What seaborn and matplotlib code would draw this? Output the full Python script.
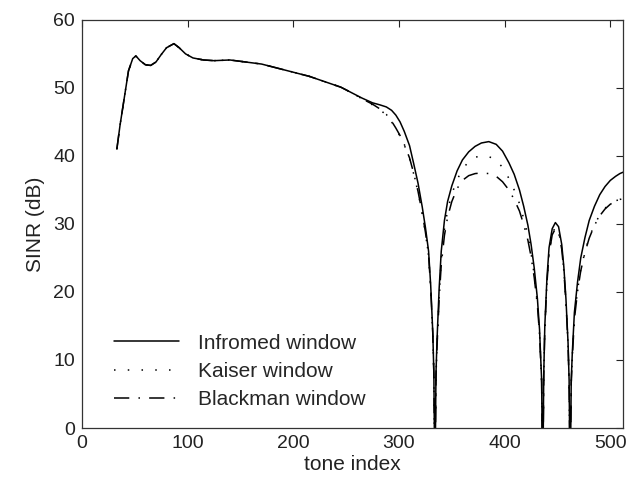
import pandas as pd
import matplotlib
matplotlib.use("Agg")
import matplotlib.pyplot as plt
import seaborn as sns

# values (nulls go below the axis and get clipped)
tone_idx = [33, 36, 40, 44, 48, 51, 55, 60, 65, 70, 75, 80, 87, 92, 98, 105, 115, 125,
            140, 155, 170, 185, 200, 215, 230, 245, 255, 265, 275, 282, 288, 293, 297,
            301, 305, 310, 314, 318, 322, 325, 328, 330, 332, 333, 334, 335, 336, 338,
            340, 343, 346, 350, 355, 360, 366, 372, 378, 385, 392, 398, 404, 409, 414,
            418, 422, 425, 428, 431, 433, 435, 436, 437, 438, 440, 442, 445, 448, 451,
            454, 456, 458, 460, 461, 462, 463, 464, 466, 469, 472, 476, 480, 485, 490,
            495, 500, 505, 509, 512]

informed = [41.0, 44.5, 48.5, 52.5, 54.3, 54.7, 54.0, 53.4, 53.3, 53.8, 54.9, 55.9, 56.5,
            55.9, 55.0, 54.4, 54.1, 54.0, 54.1, 53.8, 53.5, 52.9, 52.3, 51.7, 50.9, 50.1,
            49.3, 48.5, 47.8, 47.5, 47.2, 46.7, 46.0, 45.0, 43.6, 41.5, 38.8, 36.0, 32.5,
            29.5, 26.0, 21.0, 14.0, 8.0, -10, 8.0, 13.0, 20.5, 26.0, 30.5, 33.3, 35.6,
            37.8, 39.4, 40.6, 41.4, 41.9, 42.1, 41.7, 40.7, 39.0, 37.3, 35.0, 32.6, 29.8,
            27.0, 23.5, 19.0, 14.5, 7.0, -10, 8.0, 15.0, 22.0, 26.5, 29.3, 30.2, 29.6,
            27.0, 23.7, 19.0, 12.5, 7.0, -10, 7.0, 11.0, 17.0, 21.5, 25.0, 28.0, 30.5,
            32.6, 34.3, 35.5, 36.4, 37.0, 37.4, 37.6]

kaiser = [41.0, 44.5, 48.5, 52.5, 54.3, 54.7, 54.0, 53.4, 53.3, 53.8, 54.9, 55.9, 56.5,
          55.9, 55.0, 54.4, 54.1, 54.0, 54.1, 53.8, 53.5, 52.9, 52.3, 51.7, 50.9, 50.1,
          49.3, 48.4, 47.5, 46.8, 46.0, 45.0, 44.0, 42.9, 41.6, 39.6, 37.3, 34.7, 31.5,
          28.7, 25.3, 20.5, 13.7, 7.8, -10, 7.5, 12.3, 19.5, 24.8, 29.2, 32.0, 34.4,
          36.5, 38.0, 39.2, 39.8, 40.0, 39.9, 39.4, 38.3, 36.7, 35.0, 33.0, 30.8, 28.3,
          25.7, 22.5, 18.3, 14.0, 6.8, -10, 7.8, 14.6, 21.4, 25.8, 28.6, 29.5, 29.0,
          26.5, 23.3, 18.7, 12.3, 6.9, -10, 6.7, 10.5, 16.2, 20.3, 23.3, 25.9, 28.0,
          29.9, 31.3, 32.3, 33.0, 33.4, 33.6, 33.7]

blackman = [41.0, 44.5, 48.5, 52.5, 54.3, 54.7, 54.0, 53.4, 53.3, 53.8, 54.9, 55.9, 56.5,
            55.9, 55.0, 54.4, 54.1, 54.0, 54.1, 53.8, 53.5, 52.9, 52.3, 51.7, 50.9, 50.1,
            49.3, 48.4, 47.6, 46.9, 46.1, 45.1, 44.1, 43.0, 41.7, 39.7, 37.4, 34.8, 31.6,
            28.8, 25.4, 20.6, 13.8, 7.9, -10, 7.4, 12.0, 19.0, 24.0, 28.3, 31.0, 33.3,
            35.2, 36.4, 37.1, 37.4, 37.5, 37.4, 37.0, 36.2, 35.0, 33.6, 31.9, 29.9, 27.6,
            25.2, 22.1, 18.0, 13.8, 6.7, -10, 7.7, 14.5, 21.3, 25.6, 28.4, 29.3, 28.8,
            26.3, 23.1, 18.5, 12.2, 6.8, -10, 6.6, 10.3, 16.0, 20.1, 23.1, 25.8, 27.9,
            29.8, 31.2, 32.2, 32.9, 33.3, 33.6, 33.7]

labels = ["Infromed window", "Kaiser window", "Blackman window"]

df = pd.DataFrame({
    "tone": tone_idx * 3,
    "sinr": informed + kaiser + blackman,
    "window": [labels[0]] * len(tone_idx) + [labels[1]] * len(tone_idx) + [labels[2]] * len(tone_idx),
})

sns.set_style("white")
plt.rcParams["font.family"] = ["Liberation Sans", "DejaVu Sans"]

fig = plt.figure(figsize=(6.38, 4.9), dpi=100)
ax = fig.add_axes([0.1285, 0.1265, 0.848, 0.833])

styles = {labels[0]: "-", labels[1]: (0, (1, 8)), labels[2]: (0, (10, 6, 1, 6))}
for lab in labels:
    sns.lineplot(data=df[df["window"] == lab], x="tone", y="sinr", ax=ax,
                 color="black", linewidth=1.1, linestyle=styles[lab], label=lab,
                 estimator=None, sort=False)

ax.set_xlim(0, 512)
ax.set_ylim(0, 60)
ax.set_xticks(range(0, 501, 100))
ax.set_yticks(range(0, 61, 10))
ax.tick_params(direction="in", length=5, width=0.8, top=True, right=True,
               labelsize=14, colors="#222222", pad=5)
for sp in ax.spines.values():
    sp.set_color("#333333")
    sp.set_linewidth(0.9)

ax.set_xlabel("tone index", fontsize=15, color="#222222", labelpad=2)
ax.set_ylabel("SINR (dB)", fontsize=15, color="#222222", labelpad=6)

ax.legend(loc="lower left", bbox_to_anchor=(0.025, 0.0), frameon=False, fontsize=15,
          handlelength=3.1, handletextpad=0.9, labelspacing=0.45, borderaxespad=0.5)

fig.savefig("out.png", dpi=100)
